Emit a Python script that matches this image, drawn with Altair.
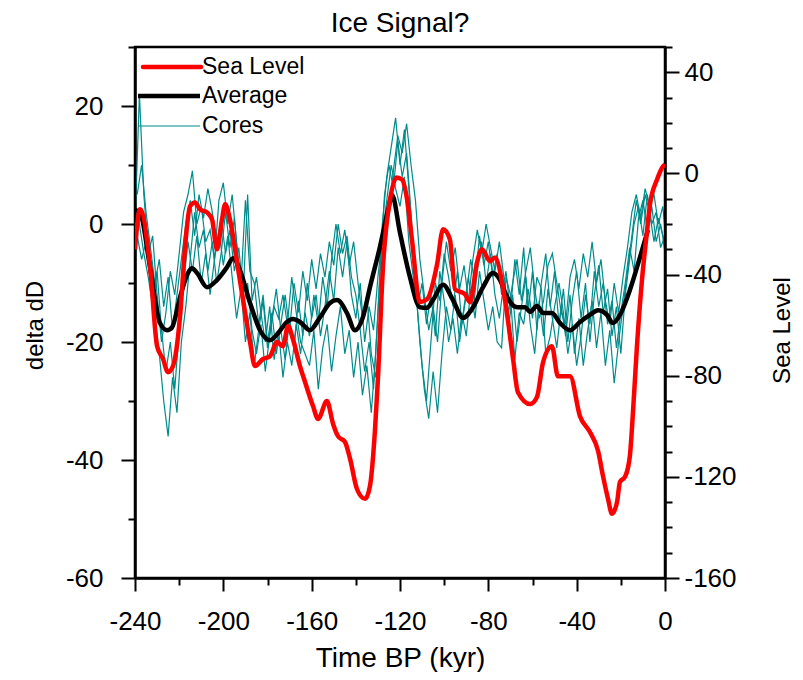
import altair as alt
import pandas as pd

# ---------------- data ----------------
# Sea level (right axis), time in kyr BP (negative = past)
sea_t = [-240, -237.7, -233.2, -230.0, -227.3, -225.1, -222.8, -219.6, -217.4, -215.1,
         -212.8, -210.6, -207.4, -205.1, -202.9, -200.6, -199.2, -197.0, -193.8, -191.1,
         -187.9, -185.7, -182.0, -178.9, -175.7, -173.0, -170.7, -168.5, -165.3, -163.0,
         -159.4, -157.1, -153.1, -150.3, -148.1, -144.9, -142.6, -139.5, -135.8, -133.6,
         -131.3, -130.0, -127.7, -124.5, -121.4, -119.1, -116.8, -114.6, -111.0, -107.8,
         -103.2, -100.5, -97.4, -95.1, -90.6, -88.3, -85.1, -82.9, -79.2, -77.0,
         -72.5, -68.8, -66.6, -61.1, -58.0, -55.2, -51.2, -48.5, -43.0, -38.5,
         -34.0, -30.3, -28.1, -25.8, -24.0, -21.7, -20.4, -18.1, -15.9, -14.5,
         -12.7, -10.4, -8.2, -6.8, -3.6, -0.9, 0]
sea_v = [-30.0, -14.2, -36.7, -68.3, -73.4, -78.6, -76.2, -56.5, -30.0, -13.0,
         -11.5, -14.2, -15.4, -18.2, -30.0, -18.2, -12.2, -18.2, -35.1, -49.8,
         -66.7, -76.2, -73.4, -72.3, -66.7, -68.3, -60.4, -65.5, -76.2, -82.5,
         -92.0, -97.1, -90.0, -99.1, -103.9, -106.2, -112.9, -124.8, -128.7, -123.6,
         -101.1, -81.3, -36.7, -10.3, -1.6, -2.4, -10.3, -26.1, -50.9, -49.8,
         -35.9, -22.1, -26.1, -45.8, -47.8, -50.9, -35.1, -30.0, -34.7, -33.2,
         -49.8, -73.4, -86.5, -91.2, -88.5, -74.6, -68.3, -80.2, -80.2, -96.0,
         -102.3, -109.8, -119.6, -128.7, -134.6, -129.9, -122.0, -120.0, -111.7, -94.4,
         -68.3, -41.9, -23.3, -12.2, -2.4, 2.8, 3.6]

# Average of cores (left axis)
avg_t = [-240, -237.7, -233.2, -228.7, -225.5, -223.2, -219.6, -216.0, -214.2, -211.9,
         -207.4, -202.9, -198.3, -195.6, -192.5, -187.9, -183.4, -178.9, -175.2, -171.2,
         -168.5, -165.3, -160.8, -156.2, -151.7, -148.5, -144.0, -140.4, -136.8, -133.6,
         -129.1, -125.4, -123.6, -120.0, -115.5, -111.0, -107.8, -105.1, -100.5, -96.0,
         -91.5, -86.9, -82.4, -77.9, -74.7, -71.5, -67.0, -63.4, -61.1, -58.0,
         -55.2, -51.2, -47.5, -43.0, -38.5, -34.0, -30.3, -26.3, -23.6, -20.4,
         -15.9, -11.3, -7.7]
avg_v = [2.4, 1.9, -7.3, -16.8, -18.0, -17.5, -12.4, -8.3, -7.5, -8.3,
         -10.7, -9.5, -7.3, -5.8, -7.8, -13.4, -18.0, -19.7, -18.5, -16.6,
         -16.1, -16.6, -18.0, -15.8, -13.4, -12.9, -15.1, -18.0, -15.8, -10.7,
         -3.9, 2.4, 4.9, -1.5, -9.0, -14.1, -14.2, -12.9, -10.3, -12.9,
         -15.9, -14.1, -10.7, -8.3, -9.5, -12.4, -14.1, -14.1, -14.9, -13.9,
         -15.1, -15.1, -16.8, -18.0, -16.6, -15.4, -14.6, -15.4, -16.8, -15.4,
         -11.2, -5.6, -1.0]

# Individual cores (left axis); cores 1 and 3 sampled on even kyr, cores 2 and 4 on odd kyr
core_t_even = list(range(-240, 1, 2))
core_t_odd = list(range(-239, 0, 2)) + [0]
core1 = [0, 22, 5, -5, -2, -12, -20, -15, -8, -12,
         -5, 2, 5, 9, 0, 3, -3, -1, -6, 4,
         7, 0, 5, -3, -10, 4, -8, -10, -17, -12,
         -20, -15, -22, -17, -12, -18, -10, -15, -8, -13,
         -6, -11, -5, -9, -3, -7, 0, -5, -2, -9,
         -12, -18, -25, -20, -28, -15, 0, 8, 13, 18,
         10, 16, 6, -5, -15, -24, -30, -20, -10, -13,
         -5, -9, -14, -8, -17, -12, -6, -10, -2, -7,
         -3, -9, -5, -12, -8, -15, -6, -12, -4, -15,
         -8, -18, -10, -5, -14, -8, -17, -11, -20, -13,
         -8, -16, -10, -20, -12, -7, -15, -11, -19, -14,
         -22, -12, -6, 0, 3, -2, 5, 0, 2, -4,
         -2]
core2 = [-2, -6, -3, -10, -16, -22, -30, -36, -26, -32,
         -20, -14, -6, 2, -4, -1, -8, -3, -10, -5,
         2, -4, 1, -8, -14, -10, -18, -22, -17, -25,
         -19, -14, -16, -12, -17, -9, -15, -20, -22, -24,
         -18, -28, -21, -17, -25, -19, -14, -22, -18, -26,
         -20, -29, -24, -32, -22, -8, 5, 10, 6, 14,
         8, 12, 2, -10, -20, -28, -33, -25, -32, -22,
         -14, -18, -12, -20, -14, -9, -15, -8, -3, -10,
         -5, -12, -16, -10, -18, -12, -20, -14, -9, -17,
         -22, -13, -19, -11, -16, -21, -14, -19, -12, -22,
         -16, -24, -18, -13, -21, -15, -24, -18, -27, -20,
         -14, -8, -2, 4, 0, 5, 2, -3, 1, -2,
         -5]
core3 = [3, 0, -5, -9, -14, -8, -18, -25, -20, -28,
         -18, -10, -3, -8, -2, -10, -5, -12, -6, -1,
         -7, -2, -9, -16, -11, -20, -15, -24, -18, -13,
         -21, -16, -11, -18, -23, -16, -21, -13, -19, -10,
         -16, -12, -19, -14, -8, -13, -4, -9, -3, -12,
         -16, -10, -20, -14, -18, -9, -2, 4, 10, 6,
         3, 8, -3, -9, -14, -10, -17, -12, -19, -8,
         -13, -20, -16, -22, -15, -19, -11, -16, -8, -13,
         -18, -14, -20, -21, -9, -12, -23, -15, -17, -11,
         -16, -9, -11, -22, -19, -14, -10, -15, -22, -17,
         -24, -19, -12, -17, -8, -14, -10, -17, -13, -21,
         -15, -10, -4, -8, 1, 4, -1, 3, -3, 0,
         -4]
core4 = [5, 10, 2, -4, -10, -6, -14, -9, -18, -12,
         -6, 0, 4, -2, 5, 1, 6, 2, -4, 1,
         -5, -1, -8, -4, -12, 5, -13, -9, -15, -20,
         -14, -23, -18, -26, -20, -24, -17, -22, -15, -19,
         -12, -17, -9, -14, -6, 0, -5, -1, -7, -3,
         -10, -16, -12, -22, -26, -18, -6, 2, 9, 15,
         12, 17, 10, 4, -6, -12, -18, -14, -20, -10,
         -3, -8, -4, -11, -7, -13, -6, -1, -5, 0,
         -4, -8, -3, -9, -15, -10, -6, -13, -8, -4,
         -11, -16, -13, -7, -5, -10, -15, -17, -9, -6,
         -11, -5, -9, -3, -10, -6, -13, -17, -10, -15,
         -9, -4, 2, 5, 1, 6, 3, 5, 0, 3,
         -1]

legend_labels = ["Sea Level", "Average", "Cores"]
chart_title = "Ice Signal?"

# ---------------- frames ----------------
sea_df = pd.DataFrame({"t": sea_t, "v": sea_v})
avg_df = pd.DataFrame({"t": avg_t, "v": avg_v})
cores = []
for name, tt, vals in [("c1", core_t_even, core1), ("c2", core_t_odd, core2),
                       ("c3", core_t_even, core3), ("c4", core_t_odd, core4)]:
    cores.append(pd.DataFrame({"t": tt, "v": vals, "core": name}))
cores_df = pd.concat(cores, ignore_index=True)
one = pd.DataFrame({"a": [0]})

FONT = "Liberation Sans"
TEAL = "#008b8b"
W, H = 530, 531

x_scale = alt.Scale(domain=[-240, 0], nice=False, zero=False)
yl_scale = alt.Scale(domain=[-60, 30], nice=False, zero=False)
yr_scale = alt.Scale(domain=[-160, 50], nice=False, zero=False)

x_axis = alt.Axis(
    values=list(range(-240, 1, 10)),
    labelExpr="datum.value % 40 === 0 ? toString(datum.value) : ''",
    tickSize={"condition": {"test": "datum.value % 40 === 0", "value": 13}, "value": 7},
    labelFontSize=26, labelFont=FONT, labelColor="black", labelPadding=17,
    labelFlush=False, labelOverlap=False,
    title="Time BP (kyr)", titleFont=FONT, titleFontSize=28, titleFontWeight="normal",
    titleColor="black", titleX=265, titleY=80, titleBaseline="middle", titleAlign="center",
    grid=False, domainColor="black", domainWidth=2.5, tickColor="black", tickWidth=2,
)
yl_axis = alt.Axis(
    orient="left",
    values=list(range(-60, 31, 5)),
    labelExpr="datum.value % 20 === 0 ? toString(datum.value) : ''",
    tickSize={"condition": {"test": "datum.value % 20 === 0", "value": 14}, "value": 7},
    labelFontSize=26, labelFont=FONT, labelColor="black", labelPadding=18,
    labelFlush=False, labelOverlap=False,
    title="delta dD", titleFont=FONT, titleFontSize=24, titleFontWeight="normal",
    titleColor="black", titleAngle=270, titleX=-100, titleY=278,
    titleBaseline="middle", titleAlign="center",
    grid=False, domainColor="black", domainWidth=2.5, tickColor="black", tickWidth=2,
)
yr_axis = alt.Axis(
    orient="right",
    values=list(range(-160, 51, 10)),
    labelExpr="datum.value % 40 === 0 ? toString(datum.value) : ''",
    tickSize={"condition": {"test": "datum.value % 40 === 0", "value": 14}, "value": 7},
    labelFontSize=26, labelFont=FONT, labelColor="black", labelPadding=5,
    labelAlign="left", labelFlush=False, labelOverlap=False,
    title="Sea Level", titleFont=FONT, titleFontSize=24, titleFontWeight="normal",
    titleColor="black", titleAngle=270, titleX=117, titleY=283,
    titleBaseline="middle", titleAlign="center",
    grid=False, domainColor="black", domainWidth=2.5, tickColor="black", tickWidth=2,
)

cores_layer = alt.Chart(cores_df).mark_line(color=TEAL, strokeWidth=1.2, clip=True).encode(
    x=alt.X("t:Q", scale=x_scale, axis=x_axis),
    y=alt.Y("v:Q", scale=yl_scale, axis=yl_axis),
    detail="core:N",
    order="t:Q",
)
avg_layer = alt.Chart(avg_df).mark_line(color="black", strokeWidth=4.5, clip=True,
                                        interpolate="monotone").encode(
    x=alt.X("t:Q", scale=x_scale),
    y=alt.Y("v:Q", scale=yl_scale),
    order="t:Q",
)

# plot frame
frame = alt.Chart(one).mark_rect(fillOpacity=0, stroke="black", strokeWidth=2.5).encode(
    x=alt.value(0), x2=alt.value(W), y=alt.value(0), y2=alt.value(H))

# title as text
title_mark = alt.Chart(one).mark_text(align="center", baseline="middle", font=FONT,
                                      fontSize=28, color="black").encode(
    x=alt.value(W / 2), y=alt.value(-23), text=alt.value(chart_title))

# legend (drawn inside the plot, top-left)
leg_red = alt.Chart(one).mark_rule(color="red", strokeWidth=4.5, strokeCap="round").encode(
    x=alt.value(8), x2=alt.value(66), y=alt.value(20))
leg_blk = alt.Chart(one).mark_rule(color="black", strokeWidth=4.5).encode(
    x=alt.value(3), x2=alt.value(65), y=alt.value(49))
leg_teal = alt.Chart(one).mark_rule(color=TEAL, strokeWidth=1.2).encode(
    x=alt.value(3), x2=alt.value(65), y=alt.value(79))
leg_texts = [
    alt.Chart(one).mark_text(align="left", baseline="middle", font=FONT, fontSize=23, color="black").encode(
        x=alt.value(67), y=alt.value(yy), text=alt.value(lbl))
    for lbl, yy in zip(legend_labels, [20, 49, 79])
]

left = alt.layer(cores_layer, avg_layer, leg_teal, leg_blk, leg_red, *leg_texts,
                 frame, title_mark)

sea_layer = alt.Chart(sea_df).mark_line(color="red", strokeWidth=4.5, clip=True,
                                        interpolate="monotone").encode(
    x=alt.X("t:Q", scale=x_scale),
    y=alt.Y("v:Q", scale=yr_scale, axis=yr_axis),
    order="t:Q",
)

chart = alt.layer(left, sea_layer).resolve_scale(y="independent").properties(
    width=W,
    height=H,
    autosize=alt.AutoSizeParams(type="none"),
    padding={"left": 127, "top": 39, "right": 130, "bottom": 94},
).configure_view(stroke="black", strokeWidth=2.5).configure(background="white")

chart.save("out.html", embed_options={"renderer": "svg", "actions": False})
